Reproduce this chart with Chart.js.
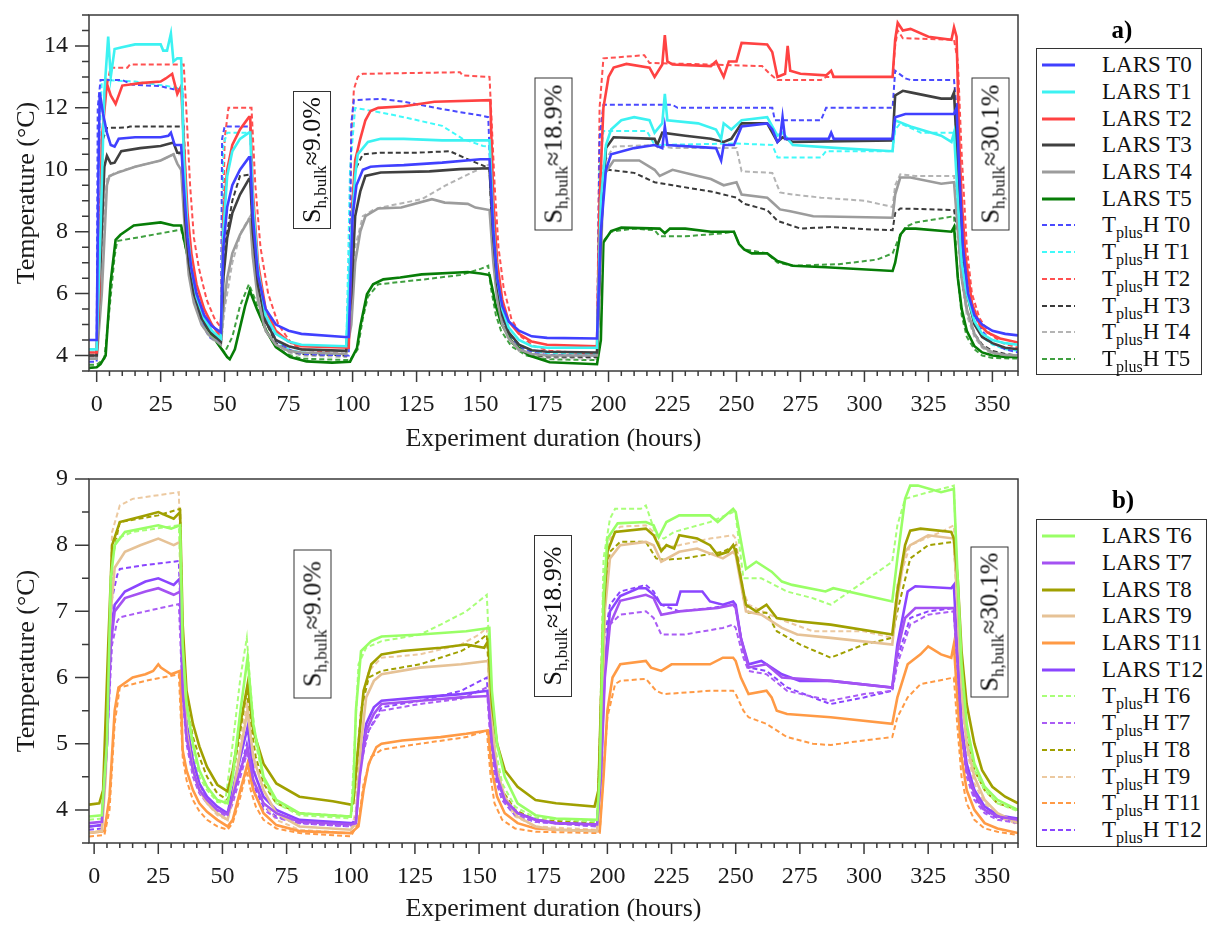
<!DOCTYPE html>
<html>
<head>
<meta charset="utf-8">
<script src="https://cdn.jsdelivr.net/npm/chart.js@4.4.1/dist/chart.umd.min.js"></script>
<style>
  body { margin: 0; background: #fff; font-family: "Liberation Serif", serif; }
  #wrap { position: relative; width: 1208px; height: 925px; overflow: hidden; }
  canvas { position: absolute; left: 0; }
  .legend { position: absolute; border: 1.5px solid #333; background: #fff; box-sizing: border-box; padding-top: 3px; }
  .row { height: 26.7px; display: flex; align-items: center; font-size: 23px; color: #111; white-space: nowrap; }
  .row svg { margin-left: 5px; margin-right: 27px; flex: none; }
  .row sub { font-size: 16px; vertical-align: -6px; line-height: 0; }
  .tag { position: absolute; font-weight: bold; font-size: 25px; transform: translate(-50%, -50%); }
  .note { position: absolute; border: 1.5px solid #333; background: #fff; box-sizing: border-box;
          transform: rotate(-90deg); text-align: center; font-size: 26px; white-space: nowrap; color: #111; }
  .note sub { font-size: 17px; vertical-align: -6px; line-height: 0; }
</style>
</head>
<body>
<div id="wrap">
  <canvas id="chartA" width="1208" height="460" style="top:0"></canvas>
  <canvas id="chartB" width="1208" height="465" style="top:460px"></canvas>
</div>
<script>
// --- Achsen ---
const hourTicks = [0, 25, 50, 75, 100, 125, 150, 175, 200, 225, 250, 275, 300, 325, 350];
const tempTicksA = [4, 6, 8, 10, 12, 14];
const tempTicksB = [4, 5, 6, 7, 8, 9];

// --- Panel a): Messwerte als [Stunde, Temperatur, ...] ---
const larsT0 = [-3,4.5, 0,4.5, 0.7,10.0, 1.2,12.5, 2.5,11.8, 4,11.2, 5.5,10.8, 7,10.75, 8.6,11.0, 15,11.05, 25,11.05, 28,11.1, 29,11.2, 30.5,10.8, 33,10.8, 34,9.5, 35.5,7.8, 37,6.8, 39,6.0, 42,5.3, 45,4.95, 48.5,4.75,
  49.5,7.5, 51,8.8, 53,9.5, 56,10.0, 59.5,10.4, 60,10.4, 61,8.5, 63,6.6, 66,5.5, 70,5.0, 75,4.8, 80,4.7, 97,4.6, 98.5,4.6,
  100,8.5, 101.5,9.5, 104,10.0, 107,10.1, 111,10.12, 120,10.15, 135,10.23, 150,10.34, 153.5,10.34,
  155,8.0, 156.5,6.5, 158.5,5.6, 161,5.1, 165,4.8, 170,4.62, 176,4.57, 195.5,4.55,
  197,8.0, 199,10.0, 201,10.5, 210,10.7, 218,10.8, 221,10.7, 222,11.4, 223,10.8, 242,10.7, 244,10.3, 245,10.8, 249,10.8, 252,11.4, 262,11.5, 264,11.3, 266,10.9, 267,11.0, 268,11.7, 269,11.0, 286,11.0, 287,11.2, 288,11.0, 311,11.0, 312,11.7, 316,11.8, 335,11.8, 336,12.0, 337,10.0, 338.5,7.5, 340.5,6.0, 343,5.3, 346,5.0, 350,4.8, 355,4.7, 360,4.65];
const larsT1 = [-3,4.2, 0,4.2, 1.5,8.0, 3,12.5, 4.5,14.3, 5.5,13.0, 7,13.9, 9.5,13.95, 15,14.05, 25,14.05, 26,13.85, 27.5,13.85, 29,14.4, 30,13.5, 31.5,13.6, 33,13.6, 34,10.5, 35.5,8.0, 37,6.8, 39,5.9, 42,5.2, 45,4.8, 48.5,4.55,
  49.5,8.0, 51,9.8, 53,10.6, 56,11.0, 59.5,11.2, 60,11.2, 61,9.0, 63,6.8, 66,5.3, 70,4.7, 75,4.45, 80,4.35, 97.5,4.3,
  99.5,8.0, 101,9.8, 102,10.5, 106,10.9, 111,11.0, 120,11.0, 135,10.95, 153.5,10.95,
  155,8.2, 156.5,6.5, 158.5,5.5, 161,4.9, 165,4.5, 170,4.3, 176,4.25, 195.5,4.25,
  197,9.0, 199,10.8, 201,11.3, 205,11.6, 210,11.7, 216,11.6, 218,11.2, 221,11.5, 222,12.45, 223,11.6, 235,11.5, 242,11.3, 244,11.0, 245,11.5, 248,11.3, 252,11.6, 262,11.7, 264,11.4, 266,11.1, 268,11.2, 272,10.8, 290,10.7, 311,10.6, 312,11.6, 318,11.4, 330,11.1, 334,10.9, 335,11.2, 336.5,9.0, 338,7.0, 340,6.0, 343,5.1, 346,4.7, 350,4.5, 355,4.4, 360,4.35];
const larsT2 = [-3,4.1, 0,4.1, 1,6.0, 2,11.0, 4,12.78, 5.5,12.4, 7.4,12.13, 10,12.72, 17,12.8, 25,12.85, 27,12.95, 29.5,13.1, 31.5,12.45, 33,12.7, 34,11.0, 35.5,8.6, 37,7.3, 39,6.3, 42,5.5, 45,5.0, 48.5,4.6,
  49.5,8.5, 51,10.0, 53,10.8, 56,11.3, 59.5,11.7, 60,11.7, 61,9.3, 63,7.0, 66,5.5, 70,4.8, 75,4.45, 80,4.3, 98.5,4.25,
  100,9.0, 101,10.3, 103,11.0, 105,11.6, 107,11.9, 110,12.0, 120,12.05, 132,12.2, 153.8,12.25,
  155,9.0, 156.5,7.0, 158.5,5.8, 161,5.1, 165,4.7, 170,4.45, 176,4.35, 195.5,4.3,
  196.5,9.0, 198,12.0, 200,13.0, 202,13.3, 207,13.42, 216,13.3, 218,13.0, 221,13.4, 222,14.35, 223,13.5, 225,13.4, 240,13.35, 242,13.5, 245,13.0, 247,13.5, 250,13.5, 252,14.1, 262,14.05, 264,13.8, 266,13.0, 269,13.1, 270,14.0, 271,13.2, 275,13.1, 285,13.05, 287,13.2, 288,13.0, 311,13.0, 312,14.2, 313,14.75, 315,14.5, 318,14.55, 325,14.3, 334,14.2, 335,14.6, 336,14.3, 337,11.0, 338,9.0, 339.5,7.2, 342,5.7, 345,5.0, 348,4.75, 353,4.55, 360,4.42];
const larsT3 = [-3,4.0, 0,4.0, 1.5,7.0, 3,10.1, 4,10.45, 5.5,10.2, 7,10.23, 9.6,10.6, 17,10.7, 25,10.77, 30,10.88, 31.5,10.55, 33.5,10.55, 34.5,8.5, 36,7.0, 38,6.0, 41,5.2, 44,4.8, 48.5,4.45,
  49.5,6.5, 51,7.8, 53,8.6, 56,9.2, 59.5,9.7, 60,9.7, 61,8.0, 63,6.3, 66,5.1, 70,4.5, 75,4.3, 80,4.2, 97.5,4.15,
  99.5,6.0, 101,8.5, 103,9.3, 105,9.8, 111,9.91, 130,9.95, 142,10.02, 153.5,10.05,
  155,7.8, 156.5,6.3, 158.5,5.3, 161,4.75, 165,4.35, 170,4.17, 176,4.12, 195.5,4.1,
  197,8.0, 199,10.7, 202,11.05, 218,11.0, 219,10.8, 221,11.2, 230,11.1, 240,11.0, 245,10.9, 248,11.0, 252,11.5, 262,11.5, 264,11.2, 266,10.9, 268,11.05, 272,10.9, 311,10.95, 312,12.4, 315,12.55, 318,12.5, 330,12.3, 334,12.3, 335,12.5, 336.5,10.0, 338,7.5, 340,6.0, 343,5.0, 346,4.6, 350,4.4, 355,4.25, 360,4.2];
const larsT4 = [-3,3.9, 0,3.9, 2,6.0, 4,9.5, 5,9.8, 8,9.9, 15,10.1, 25,10.3, 30,10.5, 31.5,10.2, 33,10.0, 34.5,8.0, 36,6.6, 38,5.7, 41,5.0, 44,4.65, 48.5,4.35,
  49.5,5.5, 51,6.5, 53,7.3, 56,7.9, 59.5,8.4, 60,8.4, 61,7.2, 63,5.8, 66,4.8, 70,4.35, 75,4.15, 80,4.1, 97.5,4.05,
  99.5,5.0, 101,7.0, 103,8.0, 105,8.5, 110,8.75, 119,8.78, 131,9.05, 136,8.94, 145,8.9, 148,8.78, 153.5,8.7,
  155,7.0, 156.5,5.8, 158.5,5.0, 161,4.55, 165,4.2, 170,4.05, 176,4.0, 195.5,4.0,
  197,7.0, 198,9.8, 202,10.3, 212,10.3, 218,10.0, 220,9.8, 225,10.0, 235,9.8, 240,9.7, 245,9.5, 250,9.6, 252,9.2, 262,9.1, 264,8.95, 267,8.72, 271,8.66, 280,8.5, 311,8.45, 312,9.2, 314,9.75, 318,9.75, 330,9.55, 335,9.6, 336.5,8.0, 338,6.5, 340,5.5, 343,4.7, 346,4.3, 350,4.1, 355,4.02, 360,4.0];
const larsT5 = [-3,3.6, 0,3.62, 1.5,3.72, 3.5,4.0, 5.4,6.33, 7.4,7.74, 9.3,7.9, 14.5,8.2, 25,8.3, 30,8.2, 33,8.2, 35.3,7.3, 37,6.5, 39,5.78, 43,4.9, 48.3,4.27, 51,3.95, 52,3.88, 54,4.2, 56,4.9, 58,5.6, 59.8,6.1,
  62.6,5.5, 66.5,4.76, 70,4.27, 75.6,3.95, 82,3.81, 92,3.77, 99,3.8, 101.7,4.24, 103,4.94, 105.6,5.98, 108,6.3, 112,6.46, 118.6,6.52, 127,6.62, 145,6.7, 150,6.65, 153.5,6.6,
  155,6.0, 156,5.6, 158,5.05, 162.5,4.4, 169,4.0, 177,3.78, 195.5,3.72,
  197,4.5, 198,7.65, 201,8.02, 205,8.13, 220,8.1, 222,7.95, 224,8.1, 230,8.1, 240,8.0, 249,8.0, 251,7.6, 253,7.43, 256,7.3, 262,7.3, 266,7.05, 272,6.9, 285,6.85, 311,6.73, 312,7.0, 314,7.9, 316,8.1, 320,8.1, 334,8.0, 335,8.15, 336.5,6.5, 338,5.5, 340,4.8, 343,4.3, 346,4.1, 350,4.0, 355,3.95, 360,3.95];
const tplushT0 = [-3,3.8, 0,3.8, 0.4,12.0, 1.5,12.9, 10,12.9, 14,12.75, 25,12.7, 30,12.6, 33.5,12.6, 34.5,9.5, 36,7.3, 38,6.0, 41,5.1, 44,4.6, 48.5,4.4,
  49,11.0, 50,11.4, 59.5,11.4, 60,11.4, 61,9.0, 63,6.8, 66,5.3, 70,4.5, 75,4.2, 80,4.05, 97,4.0, 98.5,4.0,
  99.5,11.5, 100.5,12.25, 111,12.29, 120,12.2, 135,11.96, 151,11.74, 153,11.7,
  154.5,8.5, 156,6.6, 158,5.4, 161,4.7, 165,4.3, 170,4.1, 176,4.02, 195.5,4.0,
  196.5,11.0, 198,12.1, 225,12.1, 227,12.0, 264,12.0, 265,11.6, 283,11.6, 285,12.0, 311,12.0, 312,13.2, 316,12.95, 318,12.9, 335,12.9, 336.5,11.5, 338,8.5, 340,6.5, 343,5.3, 346,4.8, 350,4.4, 355,4.2, 360,4.1];
const tplushT1 = [-3,4.1, 0,4.1, 0.7,10.0, 2,12.9, 15,12.85, 28,12.7, 33.5,12.6, 34.5,9.5, 36,7.3, 38,6.0, 41,5.1, 44,4.65, 48.5,4.45,
  49.5,10.8, 51,11.2, 60,11.2, 61,8.8, 63,6.7, 66,5.2, 70,4.5, 75,4.2, 80,4.1, 97.5,4.05,
  99,10.0, 101,12.0, 111,11.85, 120,11.7, 135,11.42, 143,11.0, 151,10.77, 153.5,10.75,
  154.5,8.3, 156,6.5, 158,5.4, 161,4.75, 165,4.35, 170,4.15, 176,4.07, 195.5,4.05,
  196.5,10.0, 198,11.25, 215,11.25, 218,10.8, 250,10.85, 264,10.8, 266,10.4, 283,10.4, 285,10.6, 311,10.6, 312,11.3, 314,11.5, 322,11.2, 335,11.2, 336.5,10.0, 338,7.5, 340,6.0, 343,5.0, 346,4.6, 350,4.35, 355,4.2, 360,4.15];
const tplushT2 = [-3,4.0, 0,4.0, 1,8.0, 3,12.3, 5.4,13.3, 12,13.3, 13,13.4, 34,13.4, 35,12.0, 36.5,9.5, 38,7.8, 40,6.8, 43,5.8, 46,5.2, 48.5,4.9,
  49,6.0, 50,11.0, 51.5,12.0, 60.5,12.0, 62,9.5, 64,7.5, 67,6.0, 71,5.0, 76,4.4, 80,4.2, 97,4.05, 98,4.1,
  99.5,11.0, 100.5,12.6, 102,13.0, 104,13.1, 142,13.15, 143,13.05, 153.5,13.0,
  155.5,9.5, 157,7.5, 159,6.2, 162,5.2, 166,4.6, 171,4.3, 177,4.15, 195.5,4.05,
  196.5,12.0, 198,13.6, 214,13.7, 216,13.45, 240,13.4, 260,13.35, 263,13.1, 266,12.9, 283,12.9, 285,13.0, 311,13.0, 312,14.0, 313,14.5, 315,14.25, 335,14.2, 336.5,13.5, 338,10.5, 340,7.5, 342,6.0, 345,5.2, 349,4.7, 354,4.4, 360,4.25];
const tplushT3 = [-3,4.0, 0,4.0, 1,8.0, 2.5,11.0, 4,11.35, 12,11.37, 13,11.4, 34,11.4, 35,9.0, 36.5,7.3, 38.5,6.2, 41.5,5.3, 45,4.75, 48.5,4.5,
  50,7.5, 53,9.0, 56,9.8, 60,9.85, 61,8.2, 63,6.4, 66,5.1, 70,4.4, 75,4.15, 80,4.05, 97.5,4.0,
  99,8.0, 101,10.0, 104,10.5, 111,10.55, 125,10.55, 138,10.6, 145,10.34, 153.5,10.05,
  154.5,7.9, 156,6.3, 158,5.2, 161,4.6, 165,4.2, 170,4.02, 176,3.97, 195.5,3.95,
  196.5,8.5, 198,9.9, 200,10.0, 210,9.9, 218,9.6, 225,9.5, 240,9.3, 250,9.1, 253,8.9, 262,8.7, 266,8.35, 275,8.1, 287,8.15, 300,8.08, 311,8.05, 312,8.6, 314,8.75, 335,8.7, 336.5,8.0, 338,6.5, 340,5.5, 343,4.7, 346,4.35, 350,4.15, 355,4.05, 360,4.0];
const tplushT4 = [-3,3.9, 0,3.9, 1.5,7.0, 4,9.7, 7,9.9, 15,10.1, 25,10.3, 30,10.5, 33.5,10.5, 34.5,8.5, 36,6.8, 38,5.8, 41,5.0, 44,4.6, 48.5,4.3,
  50,5.5, 53,7.0, 56.5,8.0, 60,8.5, 61,7.3, 63,5.9, 66,4.8, 70,4.3, 75,4.1, 80,4.0, 97.5,3.95,
  99.5,6.0, 101,7.5, 104,8.5, 108,8.7, 111,8.78, 127,9.05, 136,9.48, 146.6,9.91, 153.5,10.18,
  154.5,8.0, 156,6.3, 158,5.2, 161,4.55, 165,4.15, 170,3.97, 176,3.92, 195.5,3.9,
  196.5,8.5, 198,10.2, 202,10.75, 218,10.8, 225,10.7, 250,10.7, 252,9.95, 264,9.9, 267,9.27, 272,9.2, 283,9.1, 300,9.0, 311,8.8, 312,9.5, 314,9.85, 320,9.8, 335,9.8, 336.5,8.5, 338,6.5, 340,5.3, 343,4.6, 346,4.25, 350,4.05, 355,3.97, 360,3.95];
const tplushT5 = [-3,3.7, 0,3.7, 3,3.9, 5,5.5, 7,7.2, 8,7.7, 20,7.87, 33,8.07, 35,7.4, 37,6.6, 40,5.6, 44,4.8, 48,4.3, 50,4.1, 53,4.6, 56,5.6, 59.5,6.3,
  62,5.8, 65,5.0, 69,4.4, 74,4.05, 80,3.9, 99,3.85, 102,4.2, 104,5.2, 106,5.9, 110,6.3, 127,6.45, 142,6.6, 150,6.8, 153,6.9,
  154,6.2, 156,5.3, 158,4.8, 162,4.3, 168,4.0, 176,3.88, 195.5,3.85,
  196.5,6.0, 198,7.7, 201,8.0, 210,8.1, 218,8.05, 220,7.85, 230,7.85, 245,7.95, 249,8.0, 251,7.6, 253,7.43, 262,7.3, 266,7.0, 272,6.9, 290,6.95, 305,7.1, 311,7.3, 313,7.7, 316,8.15, 320,8.3, 335,8.5, 336.5,6.5, 338,5.3, 340,4.6, 343,4.2, 346,4.0, 350,3.92, 360,3.9];

// --- Panel b) ---
const larsT6 = [-2,3.9, 3,3.92, 5,5.0, 6.5,7.5, 8,8.0, 12,8.2, 25,8.3, 30,8.25, 33.5,8.3, 34.5,6.5, 36,5.6, 38.5,5.0, 41,4.6, 44,4.35, 48,4.15, 52,4.1, 54,4.5, 57,5.5, 59.8,6.3, 62,5.3, 66,4.5, 71,4.15, 80,3.95, 100,3.9,
  101,4.3, 102,5.5, 104,6.4, 108,6.55, 112,6.62, 127,6.65, 145,6.7, 154,6.75, 155,5.8, 157,5.0, 160,4.5, 165,4.1, 172,3.92, 180,3.87, 196,3.85,
  197,4.5, 198.5,7.2, 200,8.1, 204,8.33, 215,8.35, 218,8.3, 220,8.12, 223,8.35, 228,8.45, 240,8.45, 243,8.35, 249,8.55, 250,8.5, 254,7.64, 258,7.75, 264,7.6, 268,7.45, 272,7.4, 285,7.3, 288,7.35, 311,7.15, 313,7.8, 316,8.7, 318,8.9, 321,8.9, 330,8.8, 335,8.85, 336.5,7.5, 338,6.2, 340,5.3, 343,4.7, 347,4.35, 352,4.15, 360,4.0];
const larsT7 = [-2,3.8, 3,3.82, 5,5.0, 6.5,6.5, 8,7.0, 12,7.2, 20,7.3, 25,7.35, 28,7.3, 31,7.25, 33.5,7.3, 34.5,5.8, 36,5.1, 38.5,4.6, 41,4.3, 44,4.15, 48,4.0, 52,3.93, 54,4.2, 57,4.6, 59.8,4.95, 62,4.45, 66,4.1, 71,3.95, 80,3.82, 100,3.78,
  102,3.8, 103.5,4.5, 106,5.2, 109,5.45, 112,5.6, 127,5.65, 143,5.7, 153.5,5.72, 155,5.0, 157,4.5, 160,4.15, 165,3.95, 172,3.85, 180,3.8, 196,3.78,
  197.5,4.5, 199,6.0, 201,6.8, 205,7.16, 215,7.25, 218,7.2, 221,6.95, 228,7.0, 243,7.05, 249,7.1, 250,7.05, 252,6.6, 255,6.15, 262,6.2, 268,6.0, 287,5.95, 311,5.85, 313,6.4, 316,6.9, 320,7.05, 335,7.05, 336.5,6.2, 338,5.2, 340,4.6, 343,4.25, 347,4.0, 352,3.9, 360,3.85];
const larsT8 = [-2,4.08, 2,4.1, 3.5,4.3, 5.5,6.5, 7,8.0, 10,8.35, 20,8.45, 25,8.5, 31,8.4, 33.5,8.5, 34.5,6.8, 36,5.8, 38.5,5.3, 41,4.96, 44,4.65, 48,4.38, 52,4.28, 54,4.6, 57,5.3, 59.8,5.9, 62,5.2, 66,4.7, 71,4.4, 80,4.2, 93,4.13, 100,4.08,
  101,4.1, 103,5.0, 105,5.8, 108,6.2, 112,6.35, 120,6.4, 135,6.45, 145,6.5, 152,6.45, 153.5,6.55, 155,5.6, 157,5.0, 160,4.6, 165,4.35, 172,4.15, 180,4.1, 195,4.05,
  196.5,4.3, 198.5,7.0, 200,7.9, 203,8.2, 215,8.25, 218,8.15, 221,7.91, 223,8.0, 226,7.95, 228,8.15, 235,8.1, 240,8.0, 243,7.85, 247,7.9, 249,8.0, 250,7.9, 254,7.1, 258,7.0, 262,7.1, 266,6.9, 274,6.85, 287,6.8, 311,6.65, 313,7.3, 316,8.0, 318,8.22, 322,8.25, 334,8.2, 335,8.1, 336.5,7.5, 338,6.4, 340,5.6, 343,5.0, 346,4.6, 350,4.35, 355,4.2, 360,4.1];
const larsT9 = [-2,3.65, 3,3.68, 4.5,4.5, 6.5,7.0, 8,7.66, 12,7.9, 18,8.0, 25,8.1, 28,8.05, 31,8.0, 33.5,8.05, 34.5,6.2, 36,5.2, 38.5,4.6, 41,4.3, 44,4.1, 48,3.95, 52,3.85, 54,4.2, 57,4.9, 59.8,5.5, 62,4.8, 66,4.3, 71,3.95, 80,3.75, 100,3.7,
  102,3.8, 104,5.0, 106,5.7, 109,5.95, 112,6.05, 127,6.15, 143,6.2, 153.5,6.25, 155,5.3, 157,4.6, 160,4.2, 165,3.9, 172,3.75, 180,3.7, 196,3.68,
  197.5,4.5, 199,7.0, 201,7.8, 205,8.0, 215,8.05, 218,8.0, 221,7.75, 228,7.9, 235,7.95, 245,7.8, 249,7.9, 250,7.85, 254,7.0, 260,6.95, 268,6.75, 274,6.65, 287,6.6, 311,6.5, 313,7.2, 316,7.9, 318,8.0, 325,8.15, 335,8.1, 336.5,7.0, 338,5.8, 340,5.0, 343,4.5, 347,4.15, 352,3.95, 360,3.8];
const larsT11 = [-2,3.65, 4,3.68, 6,4.2, 8,5.5, 9.5,5.85, 15,6.0, 20,6.05, 23,6.1, 25,6.2, 26,6.15, 30,6.05, 33.5,6.1, 34.5,4.9, 36,4.6, 38.5,4.3, 41,4.1, 44,3.97, 48,3.85, 52,3.75, 54,3.85, 57,4.3, 59.8,4.7, 62,4.3, 66,3.95, 71,3.77, 80,3.68, 100,3.65,
  103,3.75, 105,4.3, 107,4.7, 110,4.95, 112,5.0, 120,5.05, 135,5.1, 145,5.15, 153.5,5.2, 155,4.6, 157,4.2, 160,3.95, 165,3.8, 172,3.72, 180,3.7, 197,3.68,
  198.5,4.5, 200,5.5, 202,6.0, 205,6.2, 215,6.25, 217,6.15, 221,6.1, 225,6.2, 240,6.2, 245,6.3, 249,6.3, 250,6.25, 252,6.0, 255,5.75, 262,5.8, 264,5.7, 266,5.5, 270,5.45, 287,5.4, 311,5.3, 313,5.7, 317,6.2, 322,6.35, 325,6.47, 330,6.35, 334,6.3, 335,6.5, 336.5,5.6, 338,4.8, 340,4.3, 343,4.0, 347,3.8, 352,3.72, 360,3.65];
const larsT12 = [-2,3.75, 3,3.77, 5,5.0, 6.5,6.7, 8,7.1, 12,7.3, 20,7.45, 25,7.5, 28,7.45, 31,7.4, 33.5,7.5, 34.5,5.9, 36,5.3, 38.5,4.75, 41,4.4, 44,4.2, 48,4.05, 52,3.95, 54,4.3, 57,4.8, 59.8,5.25, 62,4.6, 66,4.2, 71,4.0, 80,3.85, 100,3.8,
  102,3.82, 103.5,4.6, 106,5.3, 109,5.55, 112,5.65, 127,5.7, 143,5.75, 153.5,5.8, 155,5.05, 157,4.5, 160,4.15, 165,3.95, 172,3.85, 180,3.8, 196,3.78,
  197.5,4.6, 199,6.2, 201,7.0, 205,7.23, 212,7.35, 215,7.35, 218,7.25, 221,7.1, 227,7.1, 228.5,7.3, 237,7.3, 240,7.15, 245,7.1, 249,7.15, 250,7.1, 252,6.6, 255,6.2, 260,6.25, 268,6.05, 275,5.95, 287,5.95, 311,5.85, 313,6.5, 317,7.3, 320,7.38, 334,7.35, 335,7.4, 336.5,6.3, 338,5.3, 340,4.7, 343,4.3, 347,4.05, 352,3.92, 360,3.87];
const tplushT6 = [-2,3.85, 3,3.87, 5,5.2, 7,7.8, 9,8.1, 15,8.2, 33,8.3, 34.5,6.3, 36,5.4, 38.5,4.85, 41,4.5, 44,4.3, 48,4.12, 51,4.1, 54,5.0, 57,6.0, 59.5,6.6, 61,5.8, 63,5.0, 66,4.45, 71,4.1, 80,3.92, 100,3.87,
  101,4.6, 103,6.2, 106,6.45, 112,6.55, 127,6.65, 135,6.8, 145,7.0, 153,7.25, 154.5,6.0, 156,5.0, 159,4.4, 164,4.05, 172,3.88, 196,3.82,
  197,5.0, 198.5,7.8, 201,8.4, 203,8.55, 213,8.55, 215,8.6, 219,8.15, 222,8.1, 226,8.2, 240,8.35, 249,8.5, 250,8.45, 253,7.5, 260,7.5, 270,7.3, 280,7.2, 287,7.1, 300,7.45, 311,7.75, 313,8.3, 316,8.7, 325,8.8, 335,8.9, 336.5,7.3, 338,6.0, 340,5.2, 343,4.6, 347,4.3, 352,4.1, 360,3.98];
const tplushT7 = [-2,3.75, 3,3.77, 5,5.0, 7,6.5, 9,6.85, 10,6.91, 20,7.0, 33,7.11, 34.5,5.7, 36,5.0, 38.5,4.5, 41,4.25, 44,4.1, 48,3.97, 52,3.9, 54,4.1, 57,4.5, 59.5,4.85, 61,4.5, 63,4.2, 66,4.0, 71,3.88, 80,3.8, 100,3.75,
  102,3.9, 104,4.7, 107,5.2, 112,5.5, 127,5.6, 143,5.68, 153,5.85, 154.5,5.0, 156,4.5, 159,4.15, 164,3.92, 172,3.82, 196,3.75,
  197,4.5, 198.5,6.2, 201,6.8, 205,6.95, 215,7.0, 218,6.9, 221,6.65, 230,6.65, 245,6.75, 249,6.8, 250,6.75, 253,6.3, 255,6.1, 262,6.05, 270,5.8, 287,5.65, 300,5.75, 311,5.8, 313,6.2, 318,6.8, 325,6.95, 335,7.0, 336.5,6.0, 338,5.1, 340,4.5, 343,4.15, 347,3.95, 352,3.85, 360,3.8];
const tplushT8 = [-2,3.75, 3,3.77, 5,5.5, 7,7.8, 10,8.35, 25,8.45, 33.5,8.55, 34.5,6.5, 36,5.6, 38.5,5.1, 41,4.8, 44,4.5, 48,4.25, 52,4.15, 54,4.5, 57,5.2, 59.5,5.8, 61,5.3, 63,4.8, 66,4.4, 71,4.1, 80,3.95, 100,3.9,
  101.5,4.3, 104,5.5, 107,6.0, 112,6.1, 127,6.2, 143,6.4, 150,6.55, 153,6.65, 154.5,5.5, 156,4.8, 159,4.3, 164,4.0, 172,3.85, 196,3.8,
  197,5.0, 198.5,7.2, 201,7.9, 205,8.05, 215,8.05, 219,7.8, 222,7.78, 230,7.8, 245,7.9, 250,8.0, 253,7.2, 255,6.98, 262,6.98, 266,6.7, 275,6.5, 287,6.3, 300,6.5, 311,6.6, 313,7.0, 318,7.8, 325,8.0, 335,8.05, 336.5,7.0, 338,5.9, 340,5.1, 343,4.6, 347,4.3, 352,4.1, 360,4.0];
const tplushT9 = [-2,3.65, 3,3.67, 5,5.5, 7,8.2, 10,8.6, 15,8.7, 33,8.8, 34.5,6.5, 36,5.3, 38.5,4.7, 41,4.35, 44,4.1, 48,3.92, 52,3.85, 54,4.2, 57,5.0, 59.5,5.6, 61,5.0, 63,4.5, 66,4.1, 71,3.85, 80,3.7, 100,3.65,
  102,4.0, 104,5.5, 107,6.1, 112,6.3, 127,6.35, 143,6.5, 150,6.65, 153,6.75, 154.5,5.5, 156,4.7, 159,4.2, 164,3.9, 172,3.75, 196,3.7,
  197,5.0, 198.5,7.5, 201,8.1, 205,8.28, 215,8.3, 218,8.2, 221,7.95, 228,8.0, 240,8.1, 249,8.15, 250,8.1, 253,7.3, 255,7.1, 266,6.9, 280,6.7, 300,6.7, 311,6.6, 313,7.4, 318,8.0, 330,8.2, 335,8.3, 336.5,7.0, 338,5.7, 340,4.9, 343,4.4, 347,4.1, 352,3.9, 360,3.78];
const tplushT11 = [-2,3.6, 4,3.62, 6,4.0, 8,5.3, 10,5.85, 20,5.95, 33,6.05, 34.5,4.8, 36,4.45, 38.5,4.15, 41,3.98, 44,3.85, 48,3.75, 52,3.7, 54,3.8, 57,4.2, 59.5,4.6, 61,4.3, 63,4.05, 66,3.85, 71,3.72, 80,3.65, 100,3.6,
  103,3.8, 105,4.4, 108,4.8, 112,4.91, 127,5.0, 145,5.1, 153,5.2, 154.5,4.5, 156,4.1, 159,3.85, 164,3.72, 172,3.67, 197,3.65,
  198.5,4.6, 200,5.4, 203,5.9, 205,5.95, 215,5.98, 219,5.8, 222,5.75, 240,5.8, 249,5.8, 250,5.75, 253,5.5, 255,5.4, 262,5.3, 270,5.1, 280,5.0, 287,4.98, 300,5.05, 311,5.1, 313,5.4, 317,5.7, 322,5.9, 335,6.0, 336.5,5.2, 338,4.5, 340,4.1, 343,3.85, 347,3.72, 352,3.67, 360,3.62];
const tplushT12 = [-2,3.7, 3,3.72, 5,5.2, 7,7.2, 9,7.55, 10,7.64, 20,7.7, 33,7.76, 34.5,6.0, 36,5.2, 38.5,4.7, 41,4.35, 44,4.15, 48,4.0, 52,3.93, 54,4.2, 57,4.6, 59.5,5.0, 61,4.6, 63,4.3, 66,4.05, 71,3.9, 80,3.8, 100,3.75,
  102,3.9, 104,4.8, 107,5.2, 112,5.55, 127,5.65, 143,5.8, 153,6.0, 154.5,5.1, 156,4.55, 159,4.15, 164,3.92, 172,3.82, 196,3.75,
  197,4.6, 198.5,6.5, 201,7.1, 205,7.3, 215,7.4, 218,7.3, 221,7.1, 228,7.0, 240,7.05, 249,7.1, 250,7.05, 253,6.4, 255,6.15, 262,6.1, 270,5.85, 280,5.7, 287,5.6, 300,5.7, 311,5.8, 313,6.3, 318,6.9, 325,7.0, 335,7.05, 336.5,6.1, 338,5.2, 340,4.6, 343,4.2, 347,3.98, 352,3.88, 360,3.82];

// Sensorname, Messreihe, Farbe, gestrichelt
const seriesA = [
  ['LARS T0', larsT0, '#4040ff', false], ['LARS T1', larsT1, '#3cf2f2', false], ['LARS T2', larsT2, '#ff4242', false],
  ['LARS T3', larsT3, '#404040', false], ['LARS T4', larsT4, '#9c9c9c', false], ['LARS T5', larsT5, '#077d07', false],
  ['TplusH T0', tplushT0, '#4a4aff', true], ['TplusH T1', tplushT1, '#40fafa', true], ['TplusH T2', tplushT2, '#ff5050', true],
  ['TplusH T3', tplushT3, '#3a3a3a', true], ['TplusH T4', tplushT4, '#b4b4b4', true], ['TplusH T5', tplushT5, '#40a040', true]
];
const seriesB = [
  ['LARS T6', larsT6, '#99ff66', false], ['LARS T7', larsT7, '#a452f2', false], ['LARS T8', larsT8, '#a0a000', false],
  ['LARS T9', larsT9, '#e6c296', false], ['LARS T11', larsT11, '#ff9a45', false], ['LARS T12', larsT12, '#8a45ff', false],
  ['TplusH T6', tplushT6, '#a8ff78', true], ['TplusH T7', tplushT7, '#aa5cf5', true], ['TplusH T8', tplushT8, '#a0a000', true],
  ['TplusH T9', tplushT9, '#ecc9a0', true], ['TplusH T11', tplushT11, '#ff9a45', true], ['TplusH T12', tplushT12, '#8a45ff', true]
];

function toPoints(arr) {
  const pts = [];
  for (let i = 0; i < arr.length; i += 2) pts.push({ x: arr[i], y: arr[i + 1] });
  return pts;
}

// Rahmen und Teilstriche (Haupt- und Nebenstriche)
const framePlugin = {
  id: 'frame',
  afterDraw(chart, args, opts) {
    const { ctx, chartArea: a, scales: { x, y } } = chart;
    ctx.save();
    ctx.strokeStyle = '#3a3a3a';
    ctx.lineWidth = 1.5;
    ctx.strokeRect(a.left, a.top, a.right - a.left, a.bottom - a.top);
    ctx.beginPath();
    for (let h = 0; h <= 360; h += 5) {
      const px = x.getPixelForValue(h);
      const len = hourTicks.includes(h) ? 11 : 5;
      ctx.moveTo(px, a.bottom); ctx.lineTo(px, a.bottom + len);
    }
    for (let v = Math.ceil(y.min * 2) / 2; v <= y.max + 1e-9; v += 0.5) {
      const py = y.getPixelForValue(v);
      const len = opts.major.includes(v) ? 14 : 7;
      ctx.moveTo(a.left, py); ctx.lineTo(a.left - len, py);
    }
    ctx.stroke();
    ctx.restore();
  }
};

function makeChart(id, series, yMin, yMax, xMin, yTicks, padTop, xHeight, titlePad) {
  const tickFont = { family: 'Liberation Serif', size: 24 };
  const titleFont = { family: 'Liberation Serif', size: 26 };
  return new Chart(document.getElementById(id), {
    type: 'line',
    data: {
      datasets: series.map(([label, arr, color, dashed]) => ({
        label: label,
        data: toPoints(arr),
        borderColor: color,
        borderWidth: dashed ? 2 : 2.6,
        borderDash: dashed ? [5, 3] : [],
        pointRadius: 0,
        tension: 0,
        fill: false
      }))
    },
    options: {
      responsive: false,
      animation: false,
      layout: { padding: { top: padTop, right: 190, left: 0, bottom: 0 } },
      plugins: { legend: { display: false }, tooltip: { enabled: false }, frame: { major: yTicks } },
      scales: {
        x: {
          type: 'linear', min: xMin, max: 360,
          afterBuildTicks: s => { s.ticks = hourTicks.map(v => ({ value: v })); },
          afterFit: s => { s.height = xHeight; s.paddingLeft = 0; s.paddingRight = 0; },
          grid: { display: false, drawTicks: false },
          border: { display: false },
          ticks: { font: tickFont, color: '#1a1a1a', padding: 19, maxRotation: 0, autoSkip: false },
          title: { display: true, text: 'Experiment duration (hours)', font: titleFont, color: '#1a1a1a', padding: { top: 0, bottom: titlePad } }
        },
        y: {
          min: yMin, max: yMax,
          afterBuildTicks: s => { s.ticks = yTicks.map(v => ({ value: v })); },
          afterFit: s => { s.width = 89; s.paddingTop = 0; s.paddingBottom = 0; },
          grid: { display: false, drawTicks: false },
          border: { display: false },
          ticks: { font: tickFont, color: '#1a1a1a', padding: 21, autoSkip: false },
          title: { display: true, text: 'Temperature (°C)', font: titleFont, color: '#1a1a1a', padding: { top: 12, bottom: 0 } }
        }
      }
    },
    plugins: [framePlugin]
  });
}

makeChart('chartA', seriesA, 3.5, 15, -3, tempTicksA, 15, 89, 5);
makeChart('chartB', seriesB, 3.5, 9, -2, tempTicksB, 19, 82, 0);

// Legenden (HTML, wegen tiefgestelltem "plus")
function legendLabel(label) {
  return label.startsWith('TplusH') ? 'T<sub>plus</sub>H' + label.slice(6) : label;
}
function makeLegend(series, left, top, width, height) {
  const box = document.createElement('div');
  box.className = 'legend';
  Object.assign(box.style, { left: left + 'px', top: top + 'px', width: width + 'px', height: height + 'px' });
  series.forEach(([label, , color, dashed]) => {
    const row = document.createElement('div');
    row.className = 'row';
    row.innerHTML = '<svg width="33" height="6"><line x1="0" y1="3" x2="33" y2="3" stroke="' + color +
      '" stroke-width="' + (dashed ? 2.2 : 2.8) + '"' + (dashed ? ' stroke-dasharray="5,3"' : '') + '/></svg>' +
      '<span>' + legendLabel(label) + '</span>';
    box.appendChild(row);
  });
  document.getElementById('wrap').appendChild(box);
}
makeLegend(seriesA, 1036, 48, 166, 327);
makeLegend(seriesB, 1036, 519, 171, 328);

function addTag(text, x, y) {
  const d = document.createElement('div');
  d.className = 'tag';
  d.textContent = text;
  d.style.left = x + 'px'; d.style.top = y + 'px';
  document.getElementById('wrap').appendChild(d);
}
addTag('a)', 1122, 30);
addTag('b)', 1123, 500);

// Sättigungs-Hinweise (gedreht)
function addNote(pct, cx, cy, len) {
  const w = 38;
  const d = document.createElement('div');
  d.className = 'note';
  Object.assign(d.style, { left: (cx - len / 2) + 'px', top: (cy - w / 2) + 'px', width: len + 'px', height: w + 'px', lineHeight: (w - 3) + 'px' });
  d.innerHTML = 'S<sub>h,bulk</sub>≈' + pct;
  document.getElementById('wrap').appendChild(d);
}
addNote('9.0%', 312, 160, 138);
addNote('18.9%', 553, 153.5, 153);
addNote('30.1%', 990, 153.5, 153);
addNote('9.0%', 312, 623.5, 149);
addNote('18.9%', 553, 616, 162);
addNote('30.1%', 989, 621.5, 151);
</script>
</body>
</html>
